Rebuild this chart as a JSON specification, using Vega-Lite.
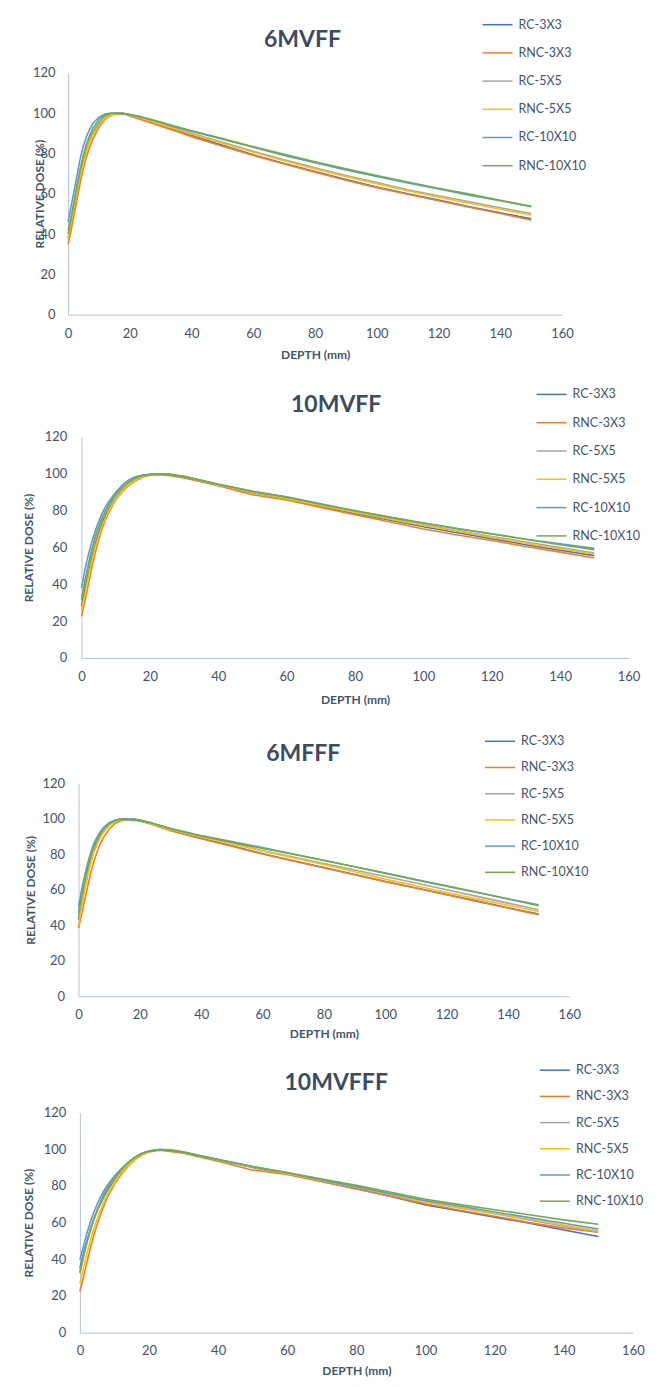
{
"$schema": "https://vega.github.io/schema/vega-lite/v6.json",
"background": "white",
"padding": {"left": 21.5, "top": 8.7, "right": 0, "bottom": 0},
"spacing": 14.3,
"resolve": {"scale": {"color": "independent"}, "legend": {"color": "independent"}},
"datasets": {
"p1": [
{"s":"RC-3X3","d":0,"v":38},{"s":"RC-3X3","d":1,"v":45},{"s":"RC-3X3","d":2,"v":53},{"s":"RC-3X3","d":3,"v":61},{"s":"RC-3X3","d":4,"v":69},{"s":"RC-3X3","d":5,"v":76},{"s":"RC-3X3","d":6,"v":81.5},{"s":"RC-3X3","d":7,"v":86},{"s":"RC-3X3","d":8,"v":89.5},{"s":"RC-3X3","d":10,"v":94.5},{"s":"RC-3X3","d":12,"v":97.5},{"s":"RC-3X3","d":14,"v":99.2},{"s":"RC-3X3","d":16,"v":99.8},{"s":"RC-3X3","d":18,"v":99.6},{"s":"RC-3X3","d":20,"v":98.8},{"s":"RC-3X3","d":23,"v":97.5},{"s":"RC-3X3","d":26,"v":96},{"s":"RC-3X3","d":30,"v":94},{"s":"RC-3X3","d":35,"v":91.5},{"s":"RC-3X3","d":40,"v":89},{"s":"RC-3X3","d":50,"v":84},{"s":"RC-3X3","d":60,"v":79.3},{"s":"RC-3X3","d":70,"v":75},{"s":"RC-3X3","d":80,"v":71},{"s":"RC-3X3","d":90,"v":67},{"s":"RC-3X3","d":100,"v":63.3},{"s":"RC-3X3","d":110,"v":60},{"s":"RC-3X3","d":120,"v":56.8},{"s":"RC-3X3","d":130,"v":53.5},{"s":"RC-3X3","d":140,"v":50.5},{"s":"RC-3X3","d":150,"v":47.5},
{"s":"RNC-3X3","d":0,"v":35},{"s":"RNC-3X3","d":1,"v":42},{"s":"RNC-3X3","d":2,"v":50},{"s":"RNC-3X3","d":3,"v":58},{"s":"RNC-3X3","d":4,"v":66},{"s":"RNC-3X3","d":5,"v":73},{"s":"RNC-3X3","d":6,"v":78.5},{"s":"RNC-3X3","d":7,"v":83},{"s":"RNC-3X3","d":8,"v":87},{"s":"RNC-3X3","d":10,"v":93},{"s":"RNC-3X3","d":12,"v":97},{"s":"RNC-3X3","d":14,"v":99},{"s":"RNC-3X3","d":16,"v":99.5},{"s":"RNC-3X3","d":18,"v":99.8},{"s":"RNC-3X3","d":20,"v":98.5},{"s":"RNC-3X3","d":23,"v":97},{"s":"RNC-3X3","d":26,"v":95.5},{"s":"RNC-3X3","d":30,"v":93.5},{"s":"RNC-3X3","d":35,"v":91},{"s":"RNC-3X3","d":40,"v":88.3},{"s":"RNC-3X3","d":50,"v":83.5},{"s":"RNC-3X3","d":60,"v":79},{"s":"RNC-3X3","d":70,"v":74.7},{"s":"RNC-3X3","d":80,"v":70.7},{"s":"RNC-3X3","d":90,"v":66.7},{"s":"RNC-3X3","d":100,"v":63},{"s":"RNC-3X3","d":110,"v":59.7},{"s":"RNC-3X3","d":120,"v":56.5},{"s":"RNC-3X3","d":130,"v":53.3},{"s":"RNC-3X3","d":140,"v":50.2},{"s":"RNC-3X3","d":150,"v":47},
{"s":"RC-5X5","d":0,"v":42},{"s":"RC-5X5","d":1,"v":49},{"s":"RC-5X5","d":2,"v":57},{"s":"RC-5X5","d":3,"v":65},{"s":"RC-5X5","d":4,"v":72.5},{"s":"RC-5X5","d":5,"v":79},{"s":"RC-5X5","d":6,"v":84},{"s":"RC-5X5","d":7,"v":88},{"s":"RC-5X5","d":8,"v":91},{"s":"RC-5X5","d":10,"v":95.5},{"s":"RC-5X5","d":12,"v":98.3},{"s":"RC-5X5","d":14,"v":99.6},{"s":"RC-5X5","d":16,"v":100},{"s":"RC-5X5","d":18,"v":99.7},{"s":"RC-5X5","d":20,"v":99},{"s":"RC-5X5","d":23,"v":98},{"s":"RC-5X5","d":26,"v":96.5},{"s":"RC-5X5","d":30,"v":94.5},{"s":"RC-5X5","d":35,"v":92.5},{"s":"RC-5X5","d":40,"v":90},{"s":"RC-5X5","d":50,"v":85.5},{"s":"RC-5X5","d":60,"v":81},{"s":"RC-5X5","d":70,"v":76.8},{"s":"RC-5X5","d":80,"v":72.8},{"s":"RC-5X5","d":90,"v":69},{"s":"RC-5X5","d":100,"v":65.5},{"s":"RC-5X5","d":110,"v":62},{"s":"RC-5X5","d":120,"v":59},{"s":"RC-5X5","d":130,"v":56},{"s":"RC-5X5","d":140,"v":53},{"s":"RC-5X5","d":150,"v":50.2},
{"s":"RNC-5X5","d":0,"v":38},{"s":"RNC-5X5","d":1,"v":45.5},{"s":"RNC-5X5","d":2,"v":53.5},{"s":"RNC-5X5","d":3,"v":61.5},{"s":"RNC-5X5","d":4,"v":69},{"s":"RNC-5X5","d":5,"v":75.5},{"s":"RNC-5X5","d":6,"v":81},{"s":"RNC-5X5","d":7,"v":85.5},{"s":"RNC-5X5","d":8,"v":89},{"s":"RNC-5X5","d":10,"v":94},{"s":"RNC-5X5","d":12,"v":97.5},{"s":"RNC-5X5","d":14,"v":99.3},{"s":"RNC-5X5","d":16,"v":99.9},{"s":"RNC-5X5","d":18,"v":99.9},{"s":"RNC-5X5","d":20,"v":99},{"s":"RNC-5X5","d":23,"v":97.8},{"s":"RNC-5X5","d":26,"v":96.3},{"s":"RNC-5X5","d":30,"v":94.3},{"s":"RNC-5X5","d":35,"v":92},{"s":"RNC-5X5","d":40,"v":89.5},{"s":"RNC-5X5","d":50,"v":85},{"s":"RNC-5X5","d":60,"v":80.5},{"s":"RNC-5X5","d":70,"v":76.3},{"s":"RNC-5X5","d":80,"v":72.3},{"s":"RNC-5X5","d":90,"v":68.5},{"s":"RNC-5X5","d":100,"v":65},{"s":"RNC-5X5","d":110,"v":61.5},{"s":"RNC-5X5","d":120,"v":58.3},{"s":"RNC-5X5","d":130,"v":55.3},{"s":"RNC-5X5","d":140,"v":52.3},{"s":"RNC-5X5","d":150,"v":49.4},
{"s":"RC-10X10","d":0,"v":46},{"s":"RC-10X10","d":1,"v":54},{"s":"RC-10X10","d":2,"v":62},{"s":"RC-10X10","d":3,"v":70},{"s":"RC-10X10","d":4,"v":78},{"s":"RC-10X10","d":5,"v":84},{"s":"RC-10X10","d":6,"v":88.5},{"s":"RC-10X10","d":7,"v":92},{"s":"RC-10X10","d":8,"v":94.8},{"s":"RC-10X10","d":10,"v":98},{"s":"RC-10X10","d":12,"v":99.5},{"s":"RC-10X10","d":14,"v":100},{"s":"RC-10X10","d":16,"v":100},{"s":"RC-10X10","d":18,"v":99.7},{"s":"RC-10X10","d":20,"v":99.2},{"s":"RC-10X10","d":23,"v":98.3},{"s":"RC-10X10","d":26,"v":97},{"s":"RC-10X10","d":30,"v":95.3},{"s":"RC-10X10","d":35,"v":93},{"s":"RC-10X10","d":40,"v":91},{"s":"RC-10X10","d":50,"v":87},{"s":"RC-10X10","d":60,"v":83},{"s":"RC-10X10","d":70,"v":79},{"s":"RC-10X10","d":80,"v":75.3},{"s":"RC-10X10","d":90,"v":71.8},{"s":"RC-10X10","d":100,"v":68.5},{"s":"RC-10X10","d":110,"v":65.3},{"s":"RC-10X10","d":120,"v":62.3},{"s":"RC-10X10","d":130,"v":59.3},{"s":"RC-10X10","d":140,"v":56.5},{"s":"RC-10X10","d":150,"v":53.7},
{"s":"RNC-10X10","d":0,"v":40},{"s":"RNC-10X10","d":1,"v":48},{"s":"RNC-10X10","d":2,"v":56},{"s":"RNC-10X10","d":3,"v":64.5},{"s":"RNC-10X10","d":4,"v":72.5},{"s":"RNC-10X10","d":5,"v":79.5},{"s":"RNC-10X10","d":6,"v":85},{"s":"RNC-10X10","d":7,"v":89},{"s":"RNC-10X10","d":8,"v":92.5},{"s":"RNC-10X10","d":10,"v":96.8},{"s":"RNC-10X10","d":12,"v":99},{"s":"RNC-10X10","d":14,"v":99.9},{"s":"RNC-10X10","d":16,"v":100},{"s":"RNC-10X10","d":18,"v":99.8},{"s":"RNC-10X10","d":20,"v":99.3},{"s":"RNC-10X10","d":23,"v":98.4},{"s":"RNC-10X10","d":26,"v":97.2},{"s":"RNC-10X10","d":30,"v":95.5},{"s":"RNC-10X10","d":35,"v":93.3},{"s":"RNC-10X10","d":40,"v":91.2},{"s":"RNC-10X10","d":50,"v":87.3},{"s":"RNC-10X10","d":60,"v":83.3},{"s":"RNC-10X10","d":70,"v":79.5},{"s":"RNC-10X10","d":80,"v":75.8},{"s":"RNC-10X10","d":90,"v":72.3},{"s":"RNC-10X10","d":100,"v":69},{"s":"RNC-10X10","d":110,"v":65.8},{"s":"RNC-10X10","d":120,"v":62.7},{"s":"RNC-10X10","d":130,"v":59.8},{"s":"RNC-10X10","d":140,"v":56.7},{"s":"RNC-10X10","d":150,"v":53.6}
],
"p2": [
{"s":"RC-3X3","d":0,"v":28},{"s":"RC-3X3","d":1,"v":38},{"s":"RC-3X3","d":2,"v":47},{"s":"RC-3X3","d":3,"v":55},{"s":"RC-3X3","d":4,"v":62},{"s":"RC-3X3","d":5,"v":68},{"s":"RC-3X3","d":6,"v":73},{"s":"RC-3X3","d":7,"v":77.5},{"s":"RC-3X3","d":8,"v":81},{"s":"RC-3X3","d":10,"v":87},{"s":"RC-3X3","d":12,"v":91.5},{"s":"RC-3X3","d":14,"v":95},{"s":"RC-3X3","d":16,"v":97.5},{"s":"RC-3X3","d":18,"v":99},{"s":"RC-3X3","d":20,"v":99.6},{"s":"RC-3X3","d":23,"v":100},{"s":"RC-3X3","d":26,"v":99.5},{"s":"RC-3X3","d":30,"v":98.2},{"s":"RC-3X3","d":35,"v":96},{"s":"RC-3X3","d":40,"v":93.7},{"s":"RC-3X3","d":50,"v":89.8},{"s":"RC-3X3","d":60,"v":86.3},{"s":"RC-3X3","d":70,"v":82.3},{"s":"RC-3X3","d":80,"v":78.5},{"s":"RC-3X3","d":90,"v":75},{"s":"RC-3X3","d":100,"v":71.3},{"s":"RC-3X3","d":110,"v":68},{"s":"RC-3X3","d":120,"v":64.8},{"s":"RC-3X3","d":130,"v":61.5},{"s":"RC-3X3","d":140,"v":58.5},{"s":"RC-3X3","d":150,"v":55.6},
{"s":"RNC-3X3","d":0,"v":22.6},{"s":"RNC-3X3","d":1,"v":31},{"s":"RNC-3X3","d":2,"v":40},{"s":"RNC-3X3","d":3,"v":49},{"s":"RNC-3X3","d":4,"v":57},{"s":"RNC-3X3","d":5,"v":64},{"s":"RNC-3X3","d":6,"v":70},{"s":"RNC-3X3","d":7,"v":75},{"s":"RNC-3X3","d":8,"v":79},{"s":"RNC-3X3","d":10,"v":86},{"s":"RNC-3X3","d":12,"v":90.5},{"s":"RNC-3X3","d":14,"v":94},{"s":"RNC-3X3","d":16,"v":96.5},{"s":"RNC-3X3","d":18,"v":98.3},{"s":"RNC-3X3","d":20,"v":99.2},{"s":"RNC-3X3","d":23,"v":99.5},{"s":"RNC-3X3","d":26,"v":99},{"s":"RNC-3X3","d":30,"v":97.8},{"s":"RNC-3X3","d":35,"v":95.7},{"s":"RNC-3X3","d":40,"v":93.5},{"s":"RNC-3X3","d":50,"v":88.6},{"s":"RNC-3X3","d":60,"v":85.8},{"s":"RNC-3X3","d":70,"v":81.8},{"s":"RNC-3X3","d":80,"v":77.8},{"s":"RNC-3X3","d":90,"v":74},{"s":"RNC-3X3","d":100,"v":70},{"s":"RNC-3X3","d":110,"v":66.8},{"s":"RNC-3X3","d":120,"v":63.8},{"s":"RNC-3X3","d":130,"v":60.5},{"s":"RNC-3X3","d":140,"v":57.5},{"s":"RNC-3X3","d":150,"v":54.3},
{"s":"RC-5X5","d":0,"v":32.5},{"s":"RC-5X5","d":1,"v":41},{"s":"RC-5X5","d":2,"v":49},{"s":"RC-5X5","d":3,"v":57},{"s":"RC-5X5","d":4,"v":64},{"s":"RC-5X5","d":5,"v":70},{"s":"RC-5X5","d":6,"v":75},{"s":"RC-5X5","d":7,"v":79},{"s":"RC-5X5","d":8,"v":82.5},{"s":"RC-5X5","d":10,"v":88},{"s":"RC-5X5","d":12,"v":92.3},{"s":"RC-5X5","d":14,"v":95.5},{"s":"RC-5X5","d":16,"v":97.8},{"s":"RC-5X5","d":18,"v":99},{"s":"RC-5X5","d":20,"v":99.6},{"s":"RC-5X5","d":23,"v":100},{"s":"RC-5X5","d":26,"v":99.6},{"s":"RC-5X5","d":30,"v":98.3},{"s":"RC-5X5","d":35,"v":96.3},{"s":"RC-5X5","d":40,"v":94},{"s":"RC-5X5","d":50,"v":90},{"s":"RC-5X5","d":60,"v":86.8},{"s":"RC-5X5","d":70,"v":83},{"s":"RC-5X5","d":80,"v":79.3},{"s":"RC-5X5","d":90,"v":75.8},{"s":"RC-5X5","d":100,"v":72.3},{"s":"RC-5X5","d":110,"v":69.2},{"s":"RC-5X5","d":120,"v":66},{"s":"RC-5X5","d":130,"v":63},{"s":"RC-5X5","d":140,"v":60},{"s":"RC-5X5","d":150,"v":57},
{"s":"RNC-5X5","d":0,"v":26},{"s":"RNC-5X5","d":1,"v":35},{"s":"RNC-5X5","d":2,"v":44},{"s":"RNC-5X5","d":3,"v":52},{"s":"RNC-5X5","d":4,"v":60},{"s":"RNC-5X5","d":5,"v":66},{"s":"RNC-5X5","d":6,"v":71.5},{"s":"RNC-5X5","d":7,"v":76},{"s":"RNC-5X5","d":8,"v":80},{"s":"RNC-5X5","d":10,"v":86.5},{"s":"RNC-5X5","d":12,"v":91},{"s":"RNC-5X5","d":14,"v":94.5},{"s":"RNC-5X5","d":16,"v":97},{"s":"RNC-5X5","d":18,"v":98.7},{"s":"RNC-5X5","d":20,"v":99.5},{"s":"RNC-5X5","d":23,"v":100},{"s":"RNC-5X5","d":26,"v":99.8},{"s":"RNC-5X5","d":30,"v":98.8},{"s":"RNC-5X5","d":35,"v":96.5},{"s":"RNC-5X5","d":40,"v":94},{"s":"RNC-5X5","d":50,"v":90},{"s":"RNC-5X5","d":60,"v":86.5},{"s":"RNC-5X5","d":70,"v":82.8},{"s":"RNC-5X5","d":80,"v":79},{"s":"RNC-5X5","d":90,"v":75.5},{"s":"RNC-5X5","d":100,"v":72},{"s":"RNC-5X5","d":110,"v":68.8},{"s":"RNC-5X5","d":120,"v":65.5},{"s":"RNC-5X5","d":130,"v":62.3},{"s":"RNC-5X5","d":140,"v":59.3},{"s":"RNC-5X5","d":150,"v":56.5},
{"s":"RC-10X10","d":0,"v":38},{"s":"RC-10X10","d":1,"v":48},{"s":"RC-10X10","d":2,"v":56},{"s":"RC-10X10","d":3,"v":63},{"s":"RC-10X10","d":4,"v":69},{"s":"RC-10X10","d":5,"v":74},{"s":"RC-10X10","d":6,"v":78.5},{"s":"RC-10X10","d":7,"v":82},{"s":"RC-10X10","d":8,"v":85},{"s":"RC-10X10","d":10,"v":90},{"s":"RC-10X10","d":12,"v":94},{"s":"RC-10X10","d":14,"v":97},{"s":"RC-10X10","d":16,"v":98.5},{"s":"RC-10X10","d":18,"v":99.3},{"s":"RC-10X10","d":20,"v":99.7},{"s":"RC-10X10","d":23,"v":100},{"s":"RC-10X10","d":26,"v":99.7},{"s":"RC-10X10","d":30,"v":98.5},{"s":"RC-10X10","d":35,"v":96.5},{"s":"RC-10X10","d":40,"v":94.3},{"s":"RC-10X10","d":50,"v":90.5},{"s":"RC-10X10","d":60,"v":87.5},{"s":"RC-10X10","d":70,"v":83.7},{"s":"RC-10X10","d":80,"v":80},{"s":"RC-10X10","d":90,"v":76.5},{"s":"RC-10X10","d":100,"v":73.3},{"s":"RC-10X10","d":110,"v":70.2},{"s":"RC-10X10","d":120,"v":67.3},{"s":"RC-10X10","d":130,"v":64.5},{"s":"RC-10X10","d":140,"v":62},{"s":"RC-10X10","d":150,"v":59.5},
{"s":"RNC-10X10","d":0,"v":31.7},{"s":"RNC-10X10","d":1,"v":42},{"s":"RNC-10X10","d":2,"v":51},{"s":"RNC-10X10","d":3,"v":59},{"s":"RNC-10X10","d":4,"v":66},{"s":"RNC-10X10","d":5,"v":71.5},{"s":"RNC-10X10","d":6,"v":76},{"s":"RNC-10X10","d":7,"v":80},{"s":"RNC-10X10","d":8,"v":83.5},{"s":"RNC-10X10","d":10,"v":89},{"s":"RNC-10X10","d":12,"v":93},{"s":"RNC-10X10","d":14,"v":96},{"s":"RNC-10X10","d":16,"v":98},{"s":"RNC-10X10","d":18,"v":99.2},{"s":"RNC-10X10","d":20,"v":99.6},{"s":"RNC-10X10","d":23,"v":100},{"s":"RNC-10X10","d":26,"v":99.7},{"s":"RNC-10X10","d":30,"v":98.5},{"s":"RNC-10X10","d":35,"v":96.5},{"s":"RNC-10X10","d":40,"v":94.3},{"s":"RNC-10X10","d":50,"v":90.5},{"s":"RNC-10X10","d":60,"v":87.3},{"s":"RNC-10X10","d":70,"v":83.5},{"s":"RNC-10X10","d":80,"v":80},{"s":"RNC-10X10","d":90,"v":76.5},{"s":"RNC-10X10","d":100,"v":73.3},{"s":"RNC-10X10","d":110,"v":70.3},{"s":"RNC-10X10","d":120,"v":67.5},{"s":"RNC-10X10","d":130,"v":64.5},{"s":"RNC-10X10","d":140,"v":61.5},{"s":"RNC-10X10","d":150,"v":58.8}
],
"p3": [
{"s":"RC-3X3","d":0,"v":43},{"s":"RC-3X3","d":1,"v":52},{"s":"RC-3X3","d":2,"v":61},{"s":"RC-3X3","d":3,"v":69},{"s":"RC-3X3","d":4,"v":76},{"s":"RC-3X3","d":5,"v":81.5},{"s":"RC-3X3","d":6,"v":86},{"s":"RC-3X3","d":7,"v":89.5},{"s":"RC-3X3","d":8,"v":92.5},{"s":"RC-3X3","d":10,"v":96.5},{"s":"RC-3X3","d":12,"v":98.8},{"s":"RC-3X3","d":14,"v":99.7},{"s":"RC-3X3","d":16,"v":99.8},{"s":"RC-3X3","d":18,"v":99.5},{"s":"RC-3X3","d":20,"v":98.8},{"s":"RC-3X3","d":23,"v":97.3},{"s":"RC-3X3","d":26,"v":95.8},{"s":"RC-3X3","d":30,"v":93.6},{"s":"RC-3X3","d":35,"v":91.2},{"s":"RC-3X3","d":40,"v":89},{"s":"RC-3X3","d":50,"v":84.8},{"s":"RC-3X3","d":60,"v":80.3},{"s":"RC-3X3","d":70,"v":76.4},{"s":"RC-3X3","d":80,"v":72.5},{"s":"RC-3X3","d":90,"v":68.6},{"s":"RC-3X3","d":100,"v":64.7},{"s":"RC-3X3","d":110,"v":61},{"s":"RC-3X3","d":120,"v":57.3},{"s":"RC-3X3","d":130,"v":53.6},{"s":"RC-3X3","d":140,"v":49.9},{"s":"RC-3X3","d":150,"v":46.3},
{"s":"RNC-3X3","d":0,"v":38.4},{"s":"RNC-3X3","d":1,"v":46},{"s":"RNC-3X3","d":2,"v":54},{"s":"RNC-3X3","d":3,"v":62},{"s":"RNC-3X3","d":4,"v":69.5},{"s":"RNC-3X3","d":5,"v":76},{"s":"RNC-3X3","d":6,"v":81},{"s":"RNC-3X3","d":7,"v":85.5},{"s":"RNC-3X3","d":8,"v":89},{"s":"RNC-3X3","d":10,"v":94.3},{"s":"RNC-3X3","d":12,"v":97.5},{"s":"RNC-3X3","d":14,"v":99},{"s":"RNC-3X3","d":16,"v":99.5},{"s":"RNC-3X3","d":18,"v":99.6},{"s":"RNC-3X3","d":20,"v":99.3},{"s":"RNC-3X3","d":23,"v":97.5},{"s":"RNC-3X3","d":26,"v":95.7},{"s":"RNC-3X3","d":30,"v":93.3},{"s":"RNC-3X3","d":35,"v":91},{"s":"RNC-3X3","d":40,"v":88.7},{"s":"RNC-3X3","d":50,"v":84.5},{"s":"RNC-3X3","d":60,"v":80.2},{"s":"RNC-3X3","d":70,"v":76.3},{"s":"RNC-3X3","d":80,"v":72.4},{"s":"RNC-3X3","d":90,"v":68.5},{"s":"RNC-3X3","d":100,"v":64.6},{"s":"RNC-3X3","d":110,"v":61},{"s":"RNC-3X3","d":120,"v":57.2},{"s":"RNC-3X3","d":130,"v":53.4},{"s":"RNC-3X3","d":140,"v":49.7},{"s":"RNC-3X3","d":150,"v":46},
{"s":"RC-5X5","d":0,"v":45},{"s":"RC-5X5","d":1,"v":55},{"s":"RC-5X5","d":2,"v":64},{"s":"RC-5X5","d":3,"v":72},{"s":"RC-5X5","d":4,"v":78.5},{"s":"RC-5X5","d":5,"v":83.5},{"s":"RC-5X5","d":6,"v":87.5},{"s":"RC-5X5","d":7,"v":90.8},{"s":"RC-5X5","d":8,"v":93.5},{"s":"RC-5X5","d":10,"v":97},{"s":"RC-5X5","d":12,"v":99},{"s":"RC-5X5","d":14,"v":99.8},{"s":"RC-5X5","d":16,"v":100},{"s":"RC-5X5","d":18,"v":99.8},{"s":"RC-5X5","d":20,"v":99.2},{"s":"RC-5X5","d":23,"v":97.8},{"s":"RC-5X5","d":26,"v":96.3},{"s":"RC-5X5","d":30,"v":94.3},{"s":"RC-5X5","d":35,"v":92},{"s":"RC-5X5","d":40,"v":90},{"s":"RC-5X5","d":50,"v":86.3},{"s":"RC-5X5","d":60,"v":82},{"s":"RC-5X5","d":70,"v":78.4},{"s":"RC-5X5","d":80,"v":74.8},{"s":"RC-5X5","d":90,"v":71.2},{"s":"RC-5X5","d":100,"v":67.5},{"s":"RC-5X5","d":110,"v":63.8},{"s":"RC-5X5","d":120,"v":60},{"s":"RC-5X5","d":130,"v":56.3},{"s":"RC-5X5","d":140,"v":52.5},{"s":"RC-5X5","d":150,"v":48.8},
{"s":"RNC-5X5","d":0,"v":40},{"s":"RNC-5X5","d":1,"v":50},{"s":"RNC-5X5","d":2,"v":59.5},{"s":"RNC-5X5","d":3,"v":68},{"s":"RNC-5X5","d":4,"v":75},{"s":"RNC-5X5","d":5,"v":81},{"s":"RNC-5X5","d":6,"v":85.5},{"s":"RNC-5X5","d":7,"v":89},{"s":"RNC-5X5","d":8,"v":92},{"s":"RNC-5X5","d":10,"v":96.3},{"s":"RNC-5X5","d":12,"v":98.6},{"s":"RNC-5X5","d":14,"v":99.6},{"s":"RNC-5X5","d":16,"v":99.8},{"s":"RNC-5X5","d":18,"v":99.6},{"s":"RNC-5X5","d":20,"v":99},{"s":"RNC-5X5","d":23,"v":97.5},{"s":"RNC-5X5","d":26,"v":96},{"s":"RNC-5X5","d":30,"v":94},{"s":"RNC-5X5","d":35,"v":91.8},{"s":"RNC-5X5","d":40,"v":89.8},{"s":"RNC-5X5","d":50,"v":86},{"s":"RNC-5X5","d":60,"v":81.8},{"s":"RNC-5X5","d":70,"v":78},{"s":"RNC-5X5","d":80,"v":74.2},{"s":"RNC-5X5","d":90,"v":70.2},{"s":"RNC-5X5","d":100,"v":66},{"s":"RNC-5X5","d":110,"v":62.3},{"s":"RNC-5X5","d":120,"v":58.5},{"s":"RNC-5X5","d":130,"v":54.9},{"s":"RNC-5X5","d":140,"v":51.3},{"s":"RNC-5X5","d":150,"v":47.8},
{"s":"RC-10X10","d":0,"v":50.5},{"s":"RC-10X10","d":1,"v":60},{"s":"RC-10X10","d":2,"v":68},{"s":"RC-10X10","d":3,"v":75},{"s":"RC-10X10","d":4,"v":81},{"s":"RC-10X10","d":5,"v":86},{"s":"RC-10X10","d":6,"v":89.5},{"s":"RC-10X10","d":7,"v":92.5},{"s":"RC-10X10","d":8,"v":94.8},{"s":"RC-10X10","d":10,"v":97.8},{"s":"RC-10X10","d":12,"v":99.3},{"s":"RC-10X10","d":14,"v":100},{"s":"RC-10X10","d":16,"v":100},{"s":"RC-10X10","d":18,"v":99.8},{"s":"RC-10X10","d":20,"v":99.3},{"s":"RC-10X10","d":23,"v":98},{"s":"RC-10X10","d":26,"v":96.5},{"s":"RC-10X10","d":30,"v":94.5},{"s":"RC-10X10","d":35,"v":92.5},{"s":"RC-10X10","d":40,"v":90.5},{"s":"RC-10X10","d":50,"v":87.2},{"s":"RC-10X10","d":60,"v":83.8},{"s":"RC-10X10","d":70,"v":80.2},{"s":"RC-10X10","d":80,"v":76.6},{"s":"RC-10X10","d":90,"v":73},{"s":"RC-10X10","d":100,"v":69.4},{"s":"RC-10X10","d":110,"v":65.6},{"s":"RC-10X10","d":120,"v":62},{"s":"RC-10X10","d":130,"v":58.5},{"s":"RC-10X10","d":140,"v":55},{"s":"RC-10X10","d":150,"v":51.6},
{"s":"RNC-10X10","d":0,"v":47},{"s":"RNC-10X10","d":1,"v":57},{"s":"RNC-10X10","d":2,"v":65.5},{"s":"RNC-10X10","d":3,"v":73},{"s":"RNC-10X10","d":4,"v":79.5},{"s":"RNC-10X10","d":5,"v":84.5},{"s":"RNC-10X10","d":6,"v":88.5},{"s":"RNC-10X10","d":7,"v":91.5},{"s":"RNC-10X10","d":8,"v":94},{"s":"RNC-10X10","d":10,"v":97.3},{"s":"RNC-10X10","d":12,"v":99},{"s":"RNC-10X10","d":14,"v":99.8},{"s":"RNC-10X10","d":16,"v":99.5},{"s":"RNC-10X10","d":18,"v":99},{"s":"RNC-10X10","d":20,"v":99},{"s":"RNC-10X10","d":23,"v":98},{"s":"RNC-10X10","d":26,"v":96.5},{"s":"RNC-10X10","d":30,"v":94.5},{"s":"RNC-10X10","d":35,"v":92.3},{"s":"RNC-10X10","d":40,"v":90.3},{"s":"RNC-10X10","d":50,"v":86.7},{"s":"RNC-10X10","d":60,"v":83.3},{"s":"RNC-10X10","d":70,"v":80},{"s":"RNC-10X10","d":80,"v":76.5},{"s":"RNC-10X10","d":90,"v":73},{"s":"RNC-10X10","d":100,"v":69.4},{"s":"RNC-10X10","d":110,"v":65.8},{"s":"RNC-10X10","d":120,"v":62.2},{"s":"RNC-10X10","d":130,"v":58.6},{"s":"RNC-10X10","d":140,"v":54.8},{"s":"RNC-10X10","d":150,"v":51}
],
"p4": [
{"s":"RC-3X3","d":0,"v":35},{"s":"RC-3X3","d":1,"v":43},{"s":"RC-3X3","d":2,"v":50},{"s":"RC-3X3","d":3,"v":56},{"s":"RC-3X3","d":4,"v":61.5},{"s":"RC-3X3","d":5,"v":66.5},{"s":"RC-3X3","d":6,"v":70.5},{"s":"RC-3X3","d":7,"v":74.3},{"s":"RC-3X3","d":8,"v":77.8},{"s":"RC-3X3","d":10,"v":83.5},{"s":"RC-3X3","d":12,"v":88.5},{"s":"RC-3X3","d":14,"v":92.3},{"s":"RC-3X3","d":16,"v":95.5},{"s":"RC-3X3","d":18,"v":97.5},{"s":"RC-3X3","d":20,"v":99},{"s":"RC-3X3","d":23,"v":99.8},{"s":"RC-3X3","d":26,"v":99.5},{"s":"RC-3X3","d":30,"v":98.2},{"s":"RC-3X3","d":35,"v":96.3},{"s":"RC-3X3","d":40,"v":94.2},{"s":"RC-3X3","d":50,"v":90},{"s":"RC-3X3","d":60,"v":86.5},{"s":"RC-3X3","d":70,"v":82.5},{"s":"RC-3X3","d":80,"v":78.5},{"s":"RC-3X3","d":90,"v":74.3},{"s":"RC-3X3","d":100,"v":69.6},{"s":"RC-3X3","d":110,"v":66.3},{"s":"RC-3X3","d":120,"v":63},{"s":"RC-3X3","d":130,"v":59.6},{"s":"RC-3X3","d":140,"v":56},{"s":"RC-3X3","d":150,"v":52.4},
{"s":"RNC-3X3","d":0,"v":22.4},{"s":"RNC-3X3","d":1,"v":30},{"s":"RNC-3X3","d":2,"v":38},{"s":"RNC-3X3","d":3,"v":46},{"s":"RNC-3X3","d":4,"v":53},{"s":"RNC-3X3","d":5,"v":59},{"s":"RNC-3X3","d":6,"v":64.5},{"s":"RNC-3X3","d":7,"v":69.5},{"s":"RNC-3X3","d":8,"v":74},{"s":"RNC-3X3","d":10,"v":81},{"s":"RNC-3X3","d":12,"v":86.5},{"s":"RNC-3X3","d":14,"v":91},{"s":"RNC-3X3","d":16,"v":94.5},{"s":"RNC-3X3","d":18,"v":97},{"s":"RNC-3X3","d":20,"v":98.5},{"s":"RNC-3X3","d":23,"v":99.5},{"s":"RNC-3X3","d":26,"v":98.8},{"s":"RNC-3X3","d":30,"v":97.8},{"s":"RNC-3X3","d":35,"v":95.6},{"s":"RNC-3X3","d":40,"v":93.5},{"s":"RNC-3X3","d":50,"v":88.6},{"s":"RNC-3X3","d":60,"v":86.3},{"s":"RNC-3X3","d":70,"v":82.3},{"s":"RNC-3X3","d":80,"v":78.3},{"s":"RNC-3X3","d":90,"v":74.4},{"s":"RNC-3X3","d":100,"v":70.2},{"s":"RNC-3X3","d":110,"v":66.7},{"s":"RNC-3X3","d":120,"v":63.5},{"s":"RNC-3X3","d":130,"v":60},{"s":"RNC-3X3","d":140,"v":57},{"s":"RNC-3X3","d":150,"v":54.7},
{"s":"RC-5X5","d":0,"v":33},{"s":"RC-5X5","d":1,"v":41.5},{"s":"RC-5X5","d":2,"v":49},{"s":"RC-5X5","d":3,"v":55.5},{"s":"RC-5X5","d":4,"v":61.5},{"s":"RC-5X5","d":5,"v":66.5},{"s":"RC-5X5","d":6,"v":71},{"s":"RC-5X5","d":7,"v":75},{"s":"RC-5X5","d":8,"v":78.5},{"s":"RC-5X5","d":10,"v":84},{"s":"RC-5X5","d":12,"v":88.7},{"s":"RC-5X5","d":14,"v":92.5},{"s":"RC-5X5","d":16,"v":95.5},{"s":"RC-5X5","d":18,"v":97.7},{"s":"RC-5X5","d":20,"v":99},{"s":"RC-5X5","d":23,"v":99.8},{"s":"RC-5X5","d":26,"v":99.6},{"s":"RC-5X5","d":30,"v":98.3},{"s":"RC-5X5","d":35,"v":96.3},{"s":"RC-5X5","d":40,"v":94.2},{"s":"RC-5X5","d":50,"v":90.3},{"s":"RC-5X5","d":60,"v":86.8},{"s":"RC-5X5","d":70,"v":83},{"s":"RC-5X5","d":80,"v":79.2},{"s":"RC-5X5","d":90,"v":75.2},{"s":"RC-5X5","d":100,"v":71.2},{"s":"RC-5X5","d":110,"v":68},{"s":"RC-5X5","d":120,"v":64.8},{"s":"RC-5X5","d":130,"v":61.5},{"s":"RC-5X5","d":140,"v":58},{"s":"RC-5X5","d":150,"v":54.7},
{"s":"RNC-5X5","d":0,"v":26.9},{"s":"RNC-5X5","d":1,"v":35},{"s":"RNC-5X5","d":2,"v":43},{"s":"RNC-5X5","d":3,"v":50},{"s":"RNC-5X5","d":4,"v":56.5},{"s":"RNC-5X5","d":5,"v":62},{"s":"RNC-5X5","d":6,"v":67},{"s":"RNC-5X5","d":7,"v":71.5},{"s":"RNC-5X5","d":8,"v":75.5},{"s":"RNC-5X5","d":10,"v":82},{"s":"RNC-5X5","d":12,"v":87.5},{"s":"RNC-5X5","d":14,"v":91.5},{"s":"RNC-5X5","d":16,"v":95},{"s":"RNC-5X5","d":18,"v":97.3},{"s":"RNC-5X5","d":20,"v":98.8},{"s":"RNC-5X5","d":23,"v":99.7},{"s":"RNC-5X5","d":26,"v":99.8},{"s":"RNC-5X5","d":30,"v":98.6},{"s":"RNC-5X5","d":35,"v":96.5},{"s":"RNC-5X5","d":40,"v":94.3},{"s":"RNC-5X5","d":50,"v":90.3},{"s":"RNC-5X5","d":60,"v":86.8},{"s":"RNC-5X5","d":70,"v":83},{"s":"RNC-5X5","d":80,"v":79.4},{"s":"RNC-5X5","d":90,"v":75.5},{"s":"RNC-5X5","d":100,"v":71.3},{"s":"RNC-5X5","d":110,"v":68},{"s":"RNC-5X5","d":120,"v":65},{"s":"RNC-5X5","d":130,"v":61.8},{"s":"RNC-5X5","d":140,"v":58.7},{"s":"RNC-5X5","d":150,"v":55.6},
{"s":"RC-10X10","d":0,"v":39.6},{"s":"RC-10X10","d":1,"v":47},{"s":"RC-10X10","d":2,"v":54},{"s":"RC-10X10","d":3,"v":60},{"s":"RC-10X10","d":4,"v":65.5},{"s":"RC-10X10","d":5,"v":70},{"s":"RC-10X10","d":6,"v":74},{"s":"RC-10X10","d":7,"v":77.5},{"s":"RC-10X10","d":8,"v":80.5},{"s":"RC-10X10","d":10,"v":85.5},{"s":"RC-10X10","d":12,"v":89.5},{"s":"RC-10X10","d":14,"v":93},{"s":"RC-10X10","d":16,"v":95.8},{"s":"RC-10X10","d":18,"v":97.8},{"s":"RC-10X10","d":20,"v":99},{"s":"RC-10X10","d":23,"v":99.8},{"s":"RC-10X10","d":26,"v":99.7},{"s":"RC-10X10","d":30,"v":98.5},{"s":"RC-10X10","d":35,"v":96.5},{"s":"RC-10X10","d":40,"v":94.5},{"s":"RC-10X10","d":50,"v":90.6},{"s":"RC-10X10","d":60,"v":87.2},{"s":"RC-10X10","d":70,"v":83.3},{"s":"RC-10X10","d":80,"v":79.5},{"s":"RC-10X10","d":90,"v":75.8},{"s":"RC-10X10","d":100,"v":72},{"s":"RC-10X10","d":110,"v":68.9},{"s":"RC-10X10","d":120,"v":65.8},{"s":"RC-10X10","d":130,"v":62.7},{"s":"RC-10X10","d":140,"v":59.6},{"s":"RC-10X10","d":150,"v":56.5},
{"s":"RNC-10X10","d":0,"v":32.4},{"s":"RNC-10X10","d":1,"v":41},{"s":"RNC-10X10","d":2,"v":49},{"s":"RNC-10X10","d":3,"v":56},{"s":"RNC-10X10","d":4,"v":62},{"s":"RNC-10X10","d":5,"v":67},{"s":"RNC-10X10","d":6,"v":71.5},{"s":"RNC-10X10","d":7,"v":75.5},{"s":"RNC-10X10","d":8,"v":79},{"s":"RNC-10X10","d":10,"v":84.5},{"s":"RNC-10X10","d":12,"v":89},{"s":"RNC-10X10","d":14,"v":92.8},{"s":"RNC-10X10","d":16,"v":95.8},{"s":"RNC-10X10","d":18,"v":97.8},{"s":"RNC-10X10","d":20,"v":99},{"s":"RNC-10X10","d":23,"v":99.8},{"s":"RNC-10X10","d":26,"v":99.5},{"s":"RNC-10X10","d":30,"v":98.2},{"s":"RNC-10X10","d":35,"v":96.3},{"s":"RNC-10X10","d":40,"v":94.3},{"s":"RNC-10X10","d":50,"v":90.6},{"s":"RNC-10X10","d":60,"v":87.3},{"s":"RNC-10X10","d":70,"v":83.8},{"s":"RNC-10X10","d":80,"v":80.3},{"s":"RNC-10X10","d":90,"v":76.5},{"s":"RNC-10X10","d":100,"v":72.7},{"s":"RNC-10X10","d":110,"v":69.8},{"s":"RNC-10X10","d":120,"v":67},{"s":"RNC-10X10","d":130,"v":64.3},{"s":"RNC-10X10","d":140,"v":61.5},{"s":"RNC-10X10","d":150,"v":59.1}
]
},
"vconcat": [
{
"width": 480.6, "height": 242,
"data": {"name": "p1"},
"title": {"text": "6MVFF", "dx": -19.3, "offset": -43.7},
"mark": {"type": "line", "strokeWidth": 1.6},
"encoding": {
"x": {"field": "d", "type": "quantitative", "scale": {"domain": [0, 160], "range": [-13.4, 480.6]}, "axis": {"values": [0,20,40,60,80,100,120,140,160], "title": "DEPTH (mm)", "labelPadding": 13, "titlePadding": 9}},
"y": {"field": "v", "type": "quantitative", "scale": {"domain": [0, 120]}, "axis": {"values": [0,20,40,60,80,100,120], "offset": 13.4, "title": "RELATIVE DOSE (%)", "titleX": -28.6, "titleY": 121, "titleBaseline": "middle", "titleAngle": 270, "titleAlign": "center", "labelPadding": 13}},
"color": {"field": "s", "type": "nominal", "scale": {"domain": ["RC-3X3","RNC-3X3","RC-5X5","RNC-5X5","RC-10X10","RNC-10X10"], "range": ["#4472C4","#ED7D31","#A5A5A5","#FFC000","#5B9BD5","#70AD47"]}, "legend": {"title": null, "orient": "none", "legendX": 400, "legendY": -64, "symbolSize": 900, "rowPadding": 5.2, "labelOffset": 5}}
}
},
{
"width": 547, "height": 221,
"data": {"name": "p2"},
"title": {"text": "10MVFF", "dx": -18.8, "offset": -42.1},
"mark": {"type": "line", "strokeWidth": 1.6},
"encoding": {
"x": {"field": "d", "type": "quantitative", "scale": {"domain": [0, 160]}, "axis": {"values": [0,20,40,60,80,100,120,140,160], "title": "DEPTH (mm)", "labelPadding": 13, "titlePadding": 11}},
"y": {"field": "v", "type": "quantitative", "scale": {"domain": [0, 120]}, "axis": {"values": [0,20,40,60,80,100,120], "title": "RELATIVE DOSE (%)", "titleX": -53.5, "titleY": 110.5, "titleBaseline": "middle", "titleAngle": 270, "titleAlign": "center", "labelPadding": 14.7}},
"color": {"field": "s", "type": "nominal", "scale": {"domain": ["RC-3X3","RNC-3X3","RC-5X5","RNC-5X5","RC-10X10","RNC-10X10"], "range": ["#4472C4","#ED7D31","#A5A5A5","#FFC000","#5B9BD5","#70AD47"]}, "legend": {"title": null, "orient": "none", "legendX": 450.6, "legendY": -62, "padding": 3.4, "symbolSize": 900, "rowPadding": 5.3, "labelOffset": 5}}
}
},
{
"width": 487.8, "height": 213,
"data": {"name": "p3"},
"title": {"text": "6MFFF", "dx": -22.1, "offset": -44.7},
"mark": {"type": "line", "strokeWidth": 1.6},
"encoding": {
"x": {"field": "d", "type": "quantitative", "scale": {"domain": [0, 160], "range": [-3, 487.8]}, "axis": {"values": [0,20,40,60,80,100,120,140,160], "title": "DEPTH (mm)", "labelPadding": 12, "titlePadding": 7}},
"y": {"field": "v", "type": "quantitative", "scale": {"domain": [0, 120]}, "axis": {"values": [0,20,40,60,80,100,120], "offset": 3, "title": "RELATIVE DOSE (%)", "titleX": -48.4, "titleY": 106.5, "titleBaseline": "middle", "titleAngle": 270, "titleAlign": "center", "labelPadding": 14}},
"color": {"field": "s", "type": "nominal", "scale": {"domain": ["RC-3X3","RNC-3X3","RC-5X5","RNC-5X5","RC-10X10","RNC-10X10"], "range": ["#4472C4","#ED7D31","#A5A5A5","#FFC000","#5B9BD5","#70AD47"]}, "legend": {"title": null, "orient": "none", "legendX": 398.2, "legendY": -62.3, "padding": 4.3, "symbolSize": 900, "rowPadding": 3.2, "labelOffset": 5}}
}
},
{
"width": 551.4, "height": 220,
"data": {"name": "p4"},
"title": {"text": "10MVFFF", "dx": -21, "offset": -40.7},
"mark": {"type": "line", "strokeWidth": 1.6},
"encoding": {
"x": {"field": "d", "type": "quantitative", "scale": {"domain": [0, 160], "range": [-1.6, 551.4]}, "axis": {"values": [0,20,40,60,80,100,120,140,160], "title": "DEPTH (mm)", "labelPadding": 12, "titlePadding": 8}},
"y": {"field": "v", "type": "quantitative", "scale": {"domain": [0, 120]}, "axis": {"values": [0,20,40,60,80,100,120], "offset": 1.6, "title": "RELATIVE DOSE (%)", "titleX": -51.9, "titleY": 110, "titleBaseline": "middle", "titleAngle": 270, "titleAlign": "center", "labelPadding": 14}},
"color": {"field": "s", "type": "nominal", "scale": {"domain": ["RC-3X3","RNC-3X3","RC-5X5","RNC-5X5","RC-10X10","RNC-10X10"], "range": ["#4472C4","#ED7D31","#A5A5A5","#FFC000","#5B9BD5","#70AD47"]}, "legend": {"title": null, "orient": "none", "legendX": 457.4, "legendY": -58.4, "symbolSize": 900, "rowPadding": 3.2, "labelOffset": 5}}
}
}
],
"config": {
"font": "Lato",
"view": {"stroke": null},
"axis": {"grid": false, "ticks": false, "domainColor": "#B4C4DC", "domainWidth": 1, "labelFont": "Lato", "labelFontSize": 13, "labelColor": "#44546A", "labelFlush": false, "labelOverlap": false, "titleFont": "Lato", "titleFontSize": 12, "titleFontWeight": "bold", "titleColor": "#44546A"},
"legend": {"symbolType": "stroke", "symbolStrokeWidth": 1.5, "labelFont": "Lato", "labelFontSize": 12.5, "labelColor": "#44546A", "padding": 0},
"title": {"font": "Lato", "fontSize": 23, "fontWeight": "bold", "color": "#3C4B61", "anchor": "middle"}
}
}
